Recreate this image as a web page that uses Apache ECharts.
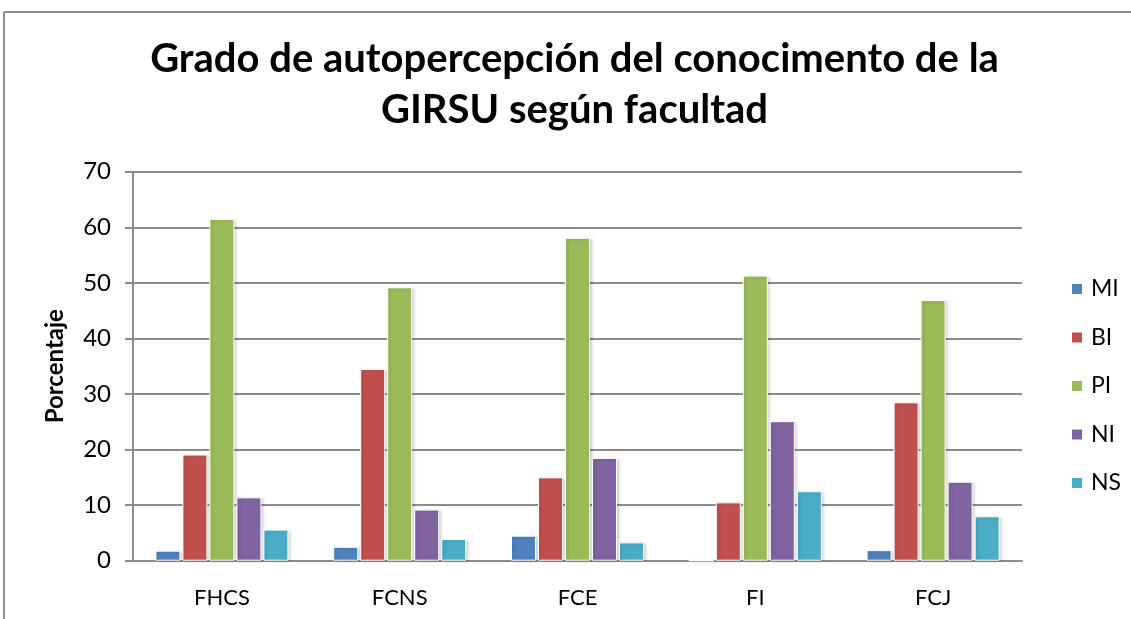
<!DOCTYPE html>
<html>
<head>
<meta charset="utf-8">
<script src="https://cdn.jsdelivr.net/npm/echarts@6/dist/echarts.min.js"></script>
<style>
html,body{margin:0;padding:0;background:#fff;}
#chart{width:1131px;height:619px;}
</style>
</head>
<body>
<div id="chart"></div>
<script>
const categories = ['FHCS', 'FCNS', 'FCE', 'FI', 'FCJ'];
const seriesNames = ['MI', 'BI', 'PI', 'NI', 'NS'];
const MI = [1.8, 2.5, 4.5, 0, 1.9];
const BI = [19.1, 34.5, 15.0, 10.5, 28.5];
const PI = [61.5, 49.2, 58.1, 51.3, 46.9];
const NI = [11.4, 9.2, 18.5, 25.1, 14.2];
const NS = [5.6, 3.9, 3.3, 12.5, 8.0];
const yTicks = [0, 10, 20, 30, 40, 50, 60, 70];
const titleText = 'Grado de autopercepción del conocimento de la\nGIRSU según facultad';
const colors = ['#4F81BD', '#C0504D', '#9BBB59', '#8064A2', '#4BACC6'];
const values = [MI, BI, PI, NI, NS];

const FONT = 'Lato';
const chart = echarts.init(document.getElementById('chart'), null, {renderer: 'canvas'});
chart.setOption({
  animation: false,
  backgroundColor: '#fff',
  color: colors,
  legend: {
    orient: 'vertical',
    left: 1065,
    top: 272,
    itemWidth: 12,
    itemHeight: 12,
    itemGap: 24.5,
    icon: 'rect',
    textStyle: {fontFamily: FONT, fontSize: 23, lineHeight: 24, color: '#000', padding: [0,0,0,3]},
    data: seriesNames
  },
  grid: {left: 133, right: 109, top: 171.7, bottom: 58.3, containLabel: false},
  xAxis: {
    type: 'category',
    data: categories,
    axisLine: {lineStyle: {color: '#8c8c8c', width: 2}},
    axisTick: {show: false},
    axisLabel: {fontFamily: FONT, fontSize: 22, color: '#000', margin: 26}
  },
  yAxis: {
    type: 'value',
    min: yTicks[0],
    max: yTicks[yTicks.length - 1],
    interval: 10,
    name: 'Porcentaje',
    nameLocation: 'middle',
    nameGap: 66,
    nameTextStyle: {fontFamily: FONT, fontWeight: 'bold', fontSize: 24, color: '#000'},
    axisLine: {show: true, lineStyle: {color: '#8c8c8c', width: 2}},
    axisTick: {show: true, inside: false, length: 8, lineStyle: {color: '#8c8c8c', width: 2}},
    splitLine: {show: true, lineStyle: {color: '#8c8c8c', width: 2}},
    axisLabel: {fontFamily: FONT, fontSize: 24, color: '#000', margin: 22}
  },
  graphic: [
    {type: 'line', shape: {x1: 4, y1: 12, x2: 1131, y2: 12}, style: {stroke: '#8c8c8c', lineWidth: 2}},
    {type: 'line', shape: {x1: 4, y1: 12, x2: 4, y2: 619}, style: {stroke: '#8c8c8c', lineWidth: 2}},
    {type: 'text', x: 574.5, y: 34, style: {
      text: titleText, align: 'center', verticalAlign: 'top',
      fontFamily: FONT, fontWeight: 'bold', fontSize: 40, lineHeight: 51, fill: '#000'
    }}
  ],
  series: seriesNames.map((n, i) => ({
    name: n,
    type: 'bar',
    data: values[i],
    barWidth: 25,
    barGap: '8%',
    itemStyle: {
      color: colors[i],
      borderColor: '#fff',
      borderWidth: 1,
      shadowColor: 'rgba(0,0,0,0.18)',
      shadowBlur: 3,
      shadowOffsetX: 2,
      shadowOffsetY: 1
    }
  }))
});
</script>
</body>
</html>
